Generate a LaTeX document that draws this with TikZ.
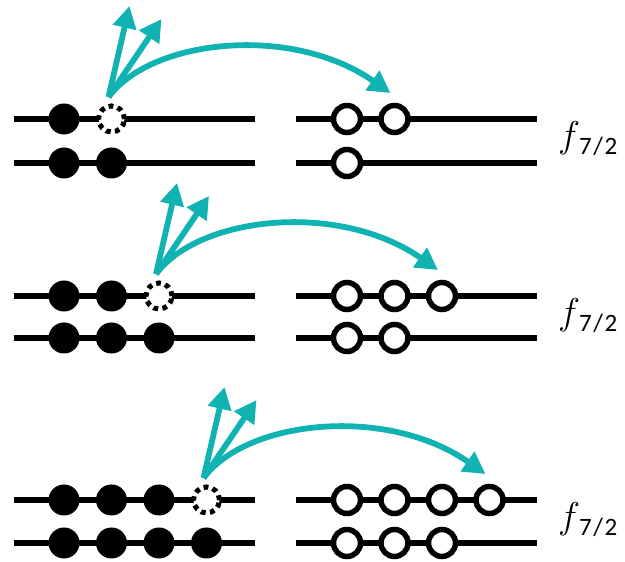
\documentclass[tikz,border=0pt]{standalone}
\usepackage{graphicx}
\usepackage{fontspec}
\setmainfont{Carlito}
\usetikzlibrary{arrows.meta}
\definecolor{jumpteal}{RGB}{16,178,178}

\begin{document}
\begin{tikzpicture}[x=1pt,y=1pt,
  level/.style={line width=5.8pt},
  full/.style={circle, fill=black, minimum size=31pt, inner sep=0pt},
  empty/.style={circle, draw=black, fill=white, line width=5.5pt, minimum size=27pt, inner sep=0pt},
  hole/.style={circle, draw=black, fill=white, line width=5pt, dash pattern=on 4.8pt off 4.4pt, minimum size=26pt, inner sep=0pt},
  jump/.style={draw=jumpteal, line width=5.8pt, -{Triangle[length=22pt,width=23pt]}},
  orbital/.style={anchor=base west, inner sep=0pt},
]
\useasboundingbox (0,0) rectangle (625,562);

% three configurations: k particles + one hole on the upper level
\foreach \k/\yu/\yl in {1/443/399, 2/266/224, 3/62/19} {
  \pgfmathtruncatemacro\n{\k+1}
  % levels
  \draw[level] (14,\yu) -- (255,\yu);
  \draw[level] (14,\yl) -- (255,\yl);
  \draw[level] (296,\yu) -- (537,\yu);
  \draw[level] (296,\yl) -- (537,\yl);
  % occupied states (left)
  \foreach \i in {1,...,\k}
    \node[full] (fu\k-\i) at ({64+47.5*(\i-1)},\yu) {};
  \node[hole] (h\k) at ({64+47.5*\k},\yu) {};
  \foreach \i in {1,...,\n}
    \node[full] (fl\k-\i) at ({64+47.5*(\i-1)},\yl) {};
  % empty states (right)
  \foreach \i in {1,...,\n}
    \node[empty] (ou\k-\i) at ({347+47.5*(\i-1)},\yu) {};
  \foreach \i in {1,...,\k}
    \node[empty] (ol\k-\i) at ({347+47.5*(\i-1)},\yl) {};
  % label
  \node[orbital] (lab\k) at (558,\yu-29)
    {\scalebox{1.5}{\Huge$f$}\kern-1pt\raisebox{-7pt}{\fontsize{25}{25}\selectfont 7\kern1.5pt/\kern1.5pt2}};
  % emission and transfer arrows
  \coordinate (s\k) at ([shift={(-3,22)}]h\k.center);
  \coordinate (a\k) at ([shift={(18,113)}]h\k.center);
  \coordinate (b\k) at ([shift={(50,100)}]h\k.center);
  \coordinate (e\k) at ([shift={(-4,26)}]ou\k-\n.center);
  \draw[jump] (s\k) -- (a\k);
  \draw[jump] (s\k) -- (b\k);
  \draw[jump] (s\k) .. controls +(43,58) and +(-99,69) .. (e\k);
}
\end{tikzpicture}
\end{document}
